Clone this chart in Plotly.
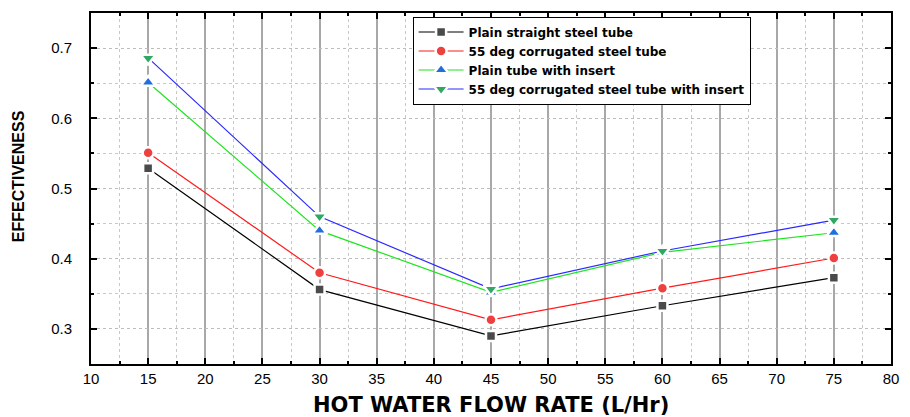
import plotly.graph_objects as go

# Hot water flow rate (L/Hr)
flow_rate = [15, 30, 45, 60, 75]

# Effectiveness for each tube configuration
plain_tube = [0.529, 0.356, 0.290, 0.333, 0.373]
corrugated_tube = [0.551, 0.380, 0.313, 0.358, 0.401]
plain_insert = [0.651, 0.440, 0.352, 0.409, 0.437]
corrugated_insert = [0.686, 0.460, 0.357, 0.411, 0.455]

series = [
    ("Plain straight steel tube", plain_tube, "#000000", "#4a4a4a", "square", 10),
    ("55 deg corrugated steel tube", corrugated_tube, "#ff1a1a", "#ef4040", "circle", 11),
    ("Plain tube with insert", plain_insert, "#1ee41e", "#1f6fdc", "triangle-up", 13),
    ("55 deg corrugated steel tube with insert", corrugated_insert, "#2a2aff", "#2fa862", "triangle-down", 13),
]

fig = go.Figure()
for name, vals, line_col, mk_col, sym, size in series:
    fig.add_trace(go.Scatter(
        x=flow_rate, y=vals, name=name, mode="lines+markers",
        line=dict(color=line_col, width=1.2),
        marker=dict(symbol=sym, size=size, color=mk_col,
                    line=dict(color="white", width=2.5)),
    ))

axis_font = dict(family="Liberation Sans, Arial, sans-serif", size=15, color="black")

fig.update_xaxes(
    range=[10, 80], tick0=10, dtick=5, showline=True, linecolor="black", linewidth=2,
    mirror="allticks", ticks="inside", ticklen=6, tickwidth=1.5, tickcolor="black",
    showgrid=True, gridcolor="#a8a8a8", gridwidth=1.5,
    minor=dict(dtick=2.5, ticks="inside", ticklen=3, tickcolor="black",
               showgrid=True, gridcolor="#c8c8c8", griddash="dot", gridwidth=1),
    tickfont=axis_font, zeroline=False,
)
fig.update_yaxes(
    range=[0.25, 0.75], tick0=0.3, dtick=0.1, tickformat=".1f",
    showline=True, linecolor="black", linewidth=2,
    mirror="allticks", ticks="inside", ticklen=6, tickwidth=1.5, tickcolor="black",
    showgrid=True, gridcolor="#bdbdbd", griddash="dot", gridwidth=1,
    minor=dict(dtick=0.05, ticks="inside", ticklen=3, tickcolor="black",
               showgrid=True, gridcolor="#c8c8c8", griddash="dot", gridwidth=1),
    tickfont=axis_font, ticklabelstandoff=14, zeroline=False,
)

fig.add_annotation(
    text="HOT WATER FLOW RATE (L/Hr)", xref="paper", yref="paper",
    x=0.5, y=0, yshift=-41, xanchor="center", yanchor="middle", showarrow=False,
    font=dict(family="DejaVu Sans, sans-serif", size=21, color="black", weight="bold"),
)
fig.add_annotation(
    text="EFFECTIVENESS", xref="paper", yref="paper",
    x=0, xshift=-73, y=0.535, xanchor="center", yanchor="middle", textangle=-90,
    showarrow=False,
    font=dict(family="Liberation Sans, Arial, sans-serif", size=16, color="black", weight=900),
)

fig.update_layout(
    width=910, height=417,
    margin=dict(l=91, r=17, t=11, b=53),
    paper_bgcolor="white", plot_bgcolor="white",
    showlegend=True,
    legend=dict(
        x=0.402, y=0.99, xanchor="left", yanchor="top",
        bgcolor="white", bordercolor="black", borderwidth=1,
        font=dict(family="DejaVu Sans, sans-serif", size=12, color="black", weight="bold"),
        itemwidth=45, tracegroupgap=0,
    ),
)

fig.write_html("out.html")
